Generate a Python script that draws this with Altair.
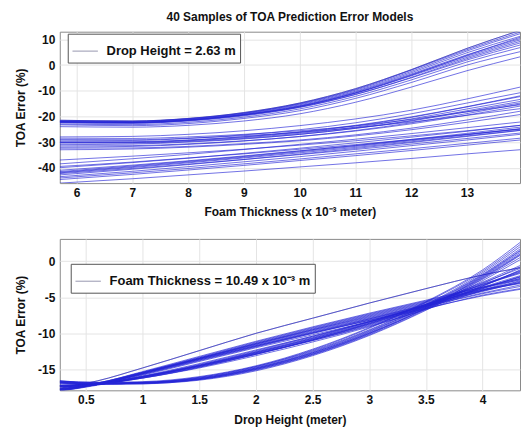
import altair as alt
import pandas as pd

TITLE = "40 Samples of TOA Prediction Error Models"

# ---------- top panel: TOA error vs foam thickness ----------
X_TOP = [5.7, 7, 8, 9, 10, 11, 12, 13, 13.95]
TOP_CURVES = [
    [-21.5, -21.8, -20.8, -18.5, -14.8, -9.2, -1.8, 6.5, 13.5],
    [-21.8, -22.0, -21.0, -18.8, -15.2, -9.8, -2.5, 5.5, 12.2],
    [-22.0, -22.2, -21.2, -19.0, -15.5, -10.2, -3.0, 4.8, 11.2],
    [-22.0, -22.3, -21.3, -19.2, -15.8, -10.5, -3.5, 4.0, 10.3],
    [-22.2, -22.4, -21.4, -19.3, -16.0, -10.8, -3.8, 3.5, 9.8],
    [-22.3, -22.5, -21.6, -19.5, -16.2, -11.0, -4.2, 3.0, 9.2],
    [-22.5, -22.7, -21.8, -19.8, -16.5, -11.5, -4.8, 2.5, 8.6],
    [-22.0, -22.4, -21.5, -19.5, -16.4, -11.4, -5.0, 2.0, 7.8],
    [-23.0, -23.2, -22.3, -20.3, -17.1, -12.2, -5.8, 1.2, 6.8],
    [-23.3, -23.6, -22.8, -20.8, -17.8, -13.0, -6.8, 0.0, 5.2],
    [-24.0, -24.2, -23.5, -21.8, -19.0, -14.5, -8.6, -2.2, 3.2],
    [-22.4, -22.6, -21.6, -19.4, -16.1, -10.9, -4.0, 3.8, 10.8],
    [-21.7, -21.9, -20.9, -18.7, -15.0, -9.5, -2.0, 6.0, 12.8],
    [-28.0, -27.8, -27.0, -25.6, -23.6, -21.0, -17.6, -13.2, -8.6],
    [-29.5, -29.4, -28.6, -27.2, -25.2, -22.5, -19.0, -14.8, -10.8],
    [-30.0, -30.0, -29.3, -28.0, -26.2, -23.7, -20.4, -16.3, -12.3],
    [-30.2, -30.2, -29.5, -28.3, -26.6, -24.2, -21.0, -17.1, -13.4],
    [-30.4, -30.4, -29.8, -28.6, -27.0, -24.7, -21.8, -18.2, -14.8],
    [-31.0, -30.8, -30.0, -28.8, -27.0, -24.6, -21.6, -17.8, -14.2],
    [-31.5, -31.4, -30.7, -29.5, -27.9, -25.7, -22.9, -19.5, -16.0],
    [-32.0, -31.7, -30.9, -29.6, -27.8, -25.5, -22.5, -18.9, -15.2],
    [-32.4, -32.3, -31.7, -30.6, -29.2, -27.2, -24.6, -21.4, -18.0],
    [-30.0, -29.9, -29.2, -27.9, -26.0, -23.5, -20.2, -16.2, -12.0],
    [-28.5, -28.6, -28.0, -27.0, -25.6, -23.7, -21.2, -18.2, -15.5],
    [-33.0, -32.7, -32.0, -30.9, -29.5, -27.6, -25.2, -22.3, -19.3],
    [-29.0, -29.1, -28.5, -27.5, -26.2, -24.4, -22.2, -19.6, -17.0],
    [-38.5, -36.5, -34.8, -32.9, -30.9, -28.9, -26.7, -24.4, -22.2],
    [-40.0, -38.0, -36.3, -34.4, -32.4, -30.3, -28.1, -25.8, -23.5],
    [-41.0, -39.0, -37.3, -35.4, -33.4, -31.4, -29.2, -27.0, -24.8],
    [-41.5, -39.3, -37.5, -35.6, -33.5, -31.3, -29.0, -26.6, -24.2],
    [-42.0, -39.9, -38.1, -36.2, -34.2, -32.1, -29.9, -27.6, -25.4],
    [-42.3, -40.3, -38.6, -36.8, -34.9, -32.9, -30.8, -28.6, -26.5],
    [-42.8, -40.6, -38.8, -36.8, -34.7, -32.5, -30.2, -27.8, -25.5],
    [-43.5, -41.4, -39.6, -37.7, -35.7, -33.6, -31.4, -29.2, -27.0],
    [-44.0, -42.0, -40.3, -38.5, -36.6, -34.6, -32.6, -30.5, -28.5],
    [-44.6, -42.6, -40.9, -39.1, -37.2, -35.3, -33.3, -31.2, -29.2],
    [-46.0, -44.3, -42.8, -41.3, -39.7, -38.1, -36.4, -34.6, -33.0],
    [-39.5, -37.8, -36.2, -34.6, -32.8, -31.0, -29.0, -27.0, -25.0],
    [-37.0, -35.5, -34.2, -32.8, -31.2, -29.5, -27.6, -25.6, -23.5],
    [-41.8, -39.6, -37.8, -35.9, -33.8, -31.7, -29.5, -27.2, -24.9],
]
TOP_X_TICKS = [6, 7, 8, 9, 10, 11, 12, 13]
TOP_Y_TICKS = [-40, -30, -20, -10, 0, 10]
TOP_LEGEND = "Drop Height = 2.63 m"

# ---------- bottom panel: TOA error vs drop height ----------
X_BOT = [0.27, 0.6, 1, 1.5, 2, 2.5, 3, 3.5, 4, 4.33]
BOT_CURVES = [
    [-17.6, -16.6, -14.8, -12.4, -10.0, -7.9, -5.8, -3.8, -1.9, -0.9],
    [-17.9, -17.0, -15.4, -13.3, -11.2, -9.2, -7.3, -5.5, -3.6, -2.4],
    [-17.8, -17.0, -15.5, -13.5, -11.5, -9.6, -7.8, -6.0, -4.0, -2.8],
    [-17.7, -16.9, -15.4, -13.4, -11.4, -9.5, -7.7, -5.9, -4.1, -3.0],
    [-18.0, -17.1, -15.6, -13.6, -11.7, -9.8, -8.0, -6.2, -4.4, -3.3],
    [-17.9, -17.1, -15.7, -13.8, -11.9, -10.0, -8.2, -6.3, -4.5, -3.5],
    [-17.8, -17.0, -15.6, -13.7, -11.8, -9.9, -8.0, -6.0, -3.8, -2.4],
    [-17.6, -16.9, -15.3, -13.2, -11.1, -9.1, -7.2, -5.4, -3.6, -2.6],
    [-18.0, -17.2, -15.8, -13.9, -12.0, -10.2, -8.4, -6.6, -4.7, -3.8],
    [-17.7, -17.0, -15.5, -13.5, -11.6, -9.7, -7.9, -6.1, -4.2, -2.9],
    [-17.9, -17.1, -15.6, -13.5, -11.4, -9.4, -7.5, -5.7, -3.7, -2.2],
    [-17.8, -17.0, -15.5, -13.6, -11.7, -9.9, -8.2, -6.5, -4.8, -3.9],
    [-17.7, -16.9, -15.4, -13.4, -11.3, -9.3, -7.4, -5.6, -3.9, -3.0],
    [-18.0, -17.1, -15.7, -13.7, -11.8, -10.0, -8.1, -6.2, -4.1, -2.7],
    [-17.8, -17.0, -15.5, -13.5, -11.5, -9.5, -7.6, -5.8, -4.0, -3.1],
    [-17.3, -17.0, -16.0, -14.4, -12.6, -10.7, -8.6, -6.3, -3.4, -1.5],
    [-17.2, -17.0, -16.1, -14.6, -12.8, -10.9, -8.8, -6.4, -3.4, -1.3],
    [-17.4, -17.1, -16.0, -14.3, -12.4, -10.4, -8.3, -6.0, -3.2, -1.6],
    [-17.3, -17.0, -16.2, -14.8, -13.1, -11.2, -9.1, -6.6, -3.5, -1.2],
    [-17.2, -17.0, -16.0, -14.5, -12.7, -10.8, -8.7, -6.3, -3.6, -2.0],
    [-17.4, -17.1, -16.1, -14.5, -12.6, -10.6, -8.4, -6.0, -3.0, -1.0],
    [-17.3, -17.0, -15.9, -14.2, -12.3, -10.4, -8.4, -6.2, -3.7, -2.2],
    [-17.2, -17.0, -16.2, -14.7, -12.9, -10.9, -8.7, -6.2, -3.1, -0.8],
    [-17.3, -17.0, -16.1, -14.6, -12.9, -11.0, -8.9, -6.5, -3.8, -2.1],
    [-17.4, -17.1, -16.0, -14.4, -12.5, -10.5, -8.4, -6.1, -3.3, -1.7],
    [-17.2, -17.0, -16.1, -14.5, -12.7, -10.7, -8.5, -6.1, -3.2, -1.4],
    [-17.3, -17.0, -16.0, -14.5, -12.8, -11.0, -9.0, -6.7, -4.0, -2.5],
    [-17.3, -17.1, -16.2, -14.7, -12.9, -10.9, -8.6, -6.0, -2.9, -0.6],
    [-16.8, -17.0, -16.9, -16.3, -14.9, -12.8, -10.0, -6.6, -2.4, 0.8],
    [-16.7, -16.9, -16.8, -16.2, -14.8, -12.6, -9.7, -6.3, -2.0, 1.4],
    [-16.9, -17.0, -16.9, -16.4, -15.1, -13.0, -10.2, -6.7, -2.5, 0.5],
    [-16.6, -16.9, -16.8, -16.1, -14.6, -12.4, -9.5, -6.0, -1.6, 2.0],
    [-16.8, -17.0, -17.0, -16.4, -15.0, -12.9, -10.1, -6.5, -2.1, 1.2],
    [-16.7, -16.9, -16.8, -16.2, -14.7, -12.5, -9.6, -6.1, -1.8, 1.7],
    [-16.9, -17.1, -17.0, -16.5, -15.2, -13.1, -10.3, -6.8, -2.7, 0.2],
    [-16.6, -16.8, -16.7, -16.0, -14.5, -12.2, -9.2, -5.6, -1.2, 2.6],
    [-16.8, -17.0, -16.9, -16.3, -14.9, -12.7, -9.9, -6.4, -2.3, 0.9],
    [-16.7, -16.9, -16.9, -16.3, -14.8, -12.7, -9.8, -6.2, -1.9, 1.5],
    [-16.6, -16.8, -16.8, -16.1, -14.6, -12.3, -9.3, -5.7, -1.4, 2.3],
    [-16.9, -17.0, -16.9, -16.4, -15.0, -12.9, -10.0, -6.5, -2.2, 1.0],
]
BOT_X_TICKS = [0.5, 1, 1.5, 2, 2.5, 3, 3.5, 4]
BOT_Y_TICKS = [-15, -10, -5, 0]
BOT_LEGEND = "Foam Thickness = 10.49 x 10\u207B\u00B3 m"

LINE_COLOR = "#2626d6"
LEGEND_LINE = "#a8a8bc"
FONT = "Liberation Sans"


def long_table(xs, curves, label):
    rows = []
    for i, c in enumerate(curves):
        for x, y in zip(xs, c):
            rows.append({"x": x, "y": y, "sample": i, "series": label})
    return pd.DataFrame(rows)


def panel(df, xdom, ydom, xticks, yticks, xtitle, label, lx, ly, height, xtitle_pad, title=None):
    props = dict(width=462, height=height)
    if title is not None:
        props["title"] = alt.TitleParams(title, fontSize=12, font=FONT, fontWeight="bold",
                                         frame="group", anchor="middle", offset=8, color="#111")
    x = alt.X("x:Q", scale=alt.Scale(domain=xdom, nice=False, zero=False),
              axis=alt.Axis(values=xticks, labelExpr="'' + datum.value", title=xtitle,
                            labelPadding=4, titlePadding=xtitle_pad))
    y = alt.Y("y:Q", scale=alt.Scale(domain=ydom, nice=False, zero=False),
              axis=alt.Axis(values=yticks, labelExpr="'' + datum.value", title="TOA Error (%)",
                            labelPadding=5, titlePadding=10))
    base = alt.Chart(df)
    # a grey sample line that carries the legend entry
    legend_line = base.transform_filter(alt.datum.sample == 0).mark_line(
        clip=True, strokeWidth=1, interpolate="monotone").encode(
        x=x, y=y,
        color=alt.Color("series:N", scale=alt.Scale(domain=[label], range=[LEGEND_LINE]),
                        legend=alt.Legend(title=None, orient="none", legendX=lx, legendY=ly,
                                          symbolType="stroke", symbolStrokeWidth=1.2,
                                          symbolSize=650, labelLimit=400,
                                          labelFontSize=13, labelFont=FONT, labelFontWeight="bold",
                                          labelColor="#111", strokeColor="#555", fillColor="white",
                                          padding=4, labelOffset=8)),
    )
    lines = base.mark_line(clip=True, strokeWidth=0.9, opacity=0.72, interpolate="monotone",
                           color=LINE_COLOR).encode(x=x, y=y, detail="sample:N")
    return alt.layer(legend_line, lines).properties(**props)


top = panel(long_table(X_TOP, TOP_CURVES, TOP_LEGEND), [5.7, 13.95], [-46, 13],
            TOP_X_TICKS, TOP_Y_TICKS, "Foam Thickness (x 10\u207B\u00B3 meter)", TOP_LEGEND, 8, 2, 152, 9, TITLE)
bot = panel(long_table(X_BOT, BOT_CURVES, BOT_LEGEND), [0.27, 4.33], [-17.9, 3.1],
            BOT_X_TICKS, BOT_Y_TICKS, "Drop Height (meter)", BOT_LEGEND, 11, 25, 152, 9)

chart = alt.vconcat(top, bot, spacing=19).resolve_scale(color="independent").resolve_legend(
    color="independent"
).properties(
    padding={"left": 14, "top": 9, "right": 0, "bottom": 0},
    background="white",
).configure_view(stroke="#8a8a8a", strokeWidth=1).configure_axis(
    domain=False, ticks=False, grid=True, gridColor="#e4e4e4", gridWidth=1,
    labelFont=FONT, labelFontSize=12, labelFontWeight="bold", labelColor="#111",
    titleFont=FONT, titleFontSize=12, titleFontWeight="bold", titleColor="#111",
)

chart.save("out.html", embed_options={"renderer": "svg", "actions": False})
